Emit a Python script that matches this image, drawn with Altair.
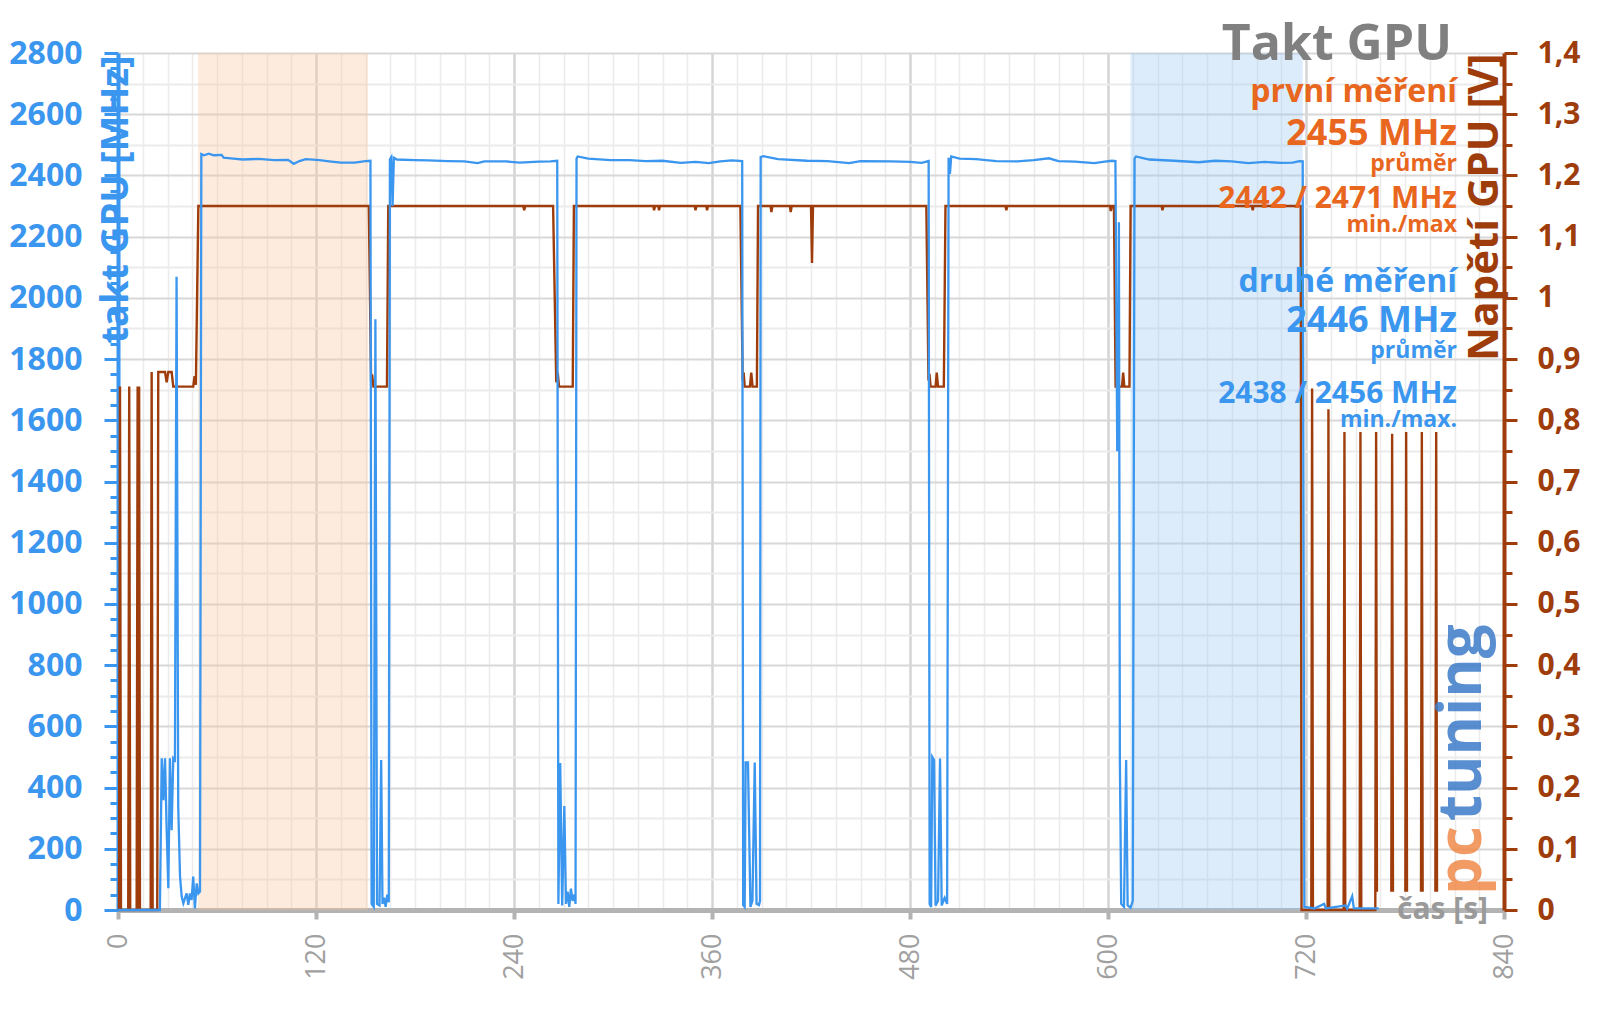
import altair as alt
import pandas as pd

# ---------------- data ----------------
blue_t = [0, 25.4, 26.5, 27.5, 28.5, 29.5, 30.5, 31.5, 32.5, 33.5, 34.5, 35.5, 36.5, 37.6, 38.6, 39.6,
          40.6, 41.6, 42.6, 43.6, 44.6, 45.6, 46.6, 47.7, 48.7, 49.7,
          50.5, 52.1, 55, 58, 62.8, 64, 70, 75.5, 85, 95, 103.1, 106.5, 110, 113.7, 122.2, 128, 135,
          143.5, 150, 153,
          153.7, 155, 156, 157, 158.5, 159.5, 160.3, 161.3, 162.2, 163.2, 164.1, 164.8, 165.6, 166.4, 167.2,
          169, 180, 188, 200, 210, 217.9, 222, 235, 243.4, 255, 262, 266.2,
          266.9, 268, 269.2, 270.5, 271.5, 272.5, 273.5, 274.5, 275.5, 276.6, 277.3, 277.9,
          278.6, 285, 298.6, 310, 319.9, 330, 341.1, 350, 358.1, 365, 372, 378.3,
          378.9, 379.8, 380.4, 381.8, 383.3, 384.5, 385.9, 387, 388.5, 389.1, 389.5,
          391, 400, 417.6, 430, 443.1, 450, 468.6, 480, 487, 491.3,
          491.9, 492.8, 493.5, 494.6, 495.5, 497, 498.2, 499.2, 501, 502.5, 503.4,
          504.2, 505, 510, 520, 532.3, 545, 555, 564.2, 570, 580, 591.8, 598, 602.5, 604.5,
          605.6, 606.2, 606.6, 607.2, 608, 609.7, 611, 611.9, 613.7, 615, 616.1,
          617, 625, 640, 655, 665, 675, 685, 695, 705, 712, 716, 718,
          719, 725, 731, 732, 744, 745, 748, 749, 764]
blue_mhz = [0, 0, 496, 359, 496, 261, 71, 496, 261, 496, 490, 2069, 338, 109, 44, 22,
            39, 54, 17, 54, 33, 109, 5, 87, 54, 60,
            2470, 2466, 2471, 2466, 2467, 2458, 2455, 2452, 2454, 2450, 2451, 2438, 2447, 2453, 2450, 2446, 2442,
            2442, 2447, 2448,
            20, 10, 1930, 20, 15, 490, 20, 40, 10, 50, 25, 2453, 2460, 2300, 2458,
            2452, 2450, 2449, 2447, 2446, 2440, 2446, 2446, 2442, 2445, 2446, 2448,
            20, 480, 15, 340, 20, 60, 10, 70, 30, 50, 20, 2455,
            2462, 2455, 2450, 2450, 2447, 2448, 2441, 2444, 2440, 2446, 2449, 2447,
            16, 10, 482, 482, 10, 30, 482, 20, 16, 30, 2460,
            2463, 2453, 2448, 2447, 2440, 2447, 2446, 2444, 2441, 2447,
            20, 10, 500, 490, 15, 30, 495, 15, 40, 20, 2458,
            2405, 2462, 2455, 2453, 2447, 2446, 2450, 2456, 2447, 2445, 2440, 2445, 2448, 2447,
            1503, 1503, 2247, 490, 20, 10, 490, 15, 8, 30, 2455,
            2462, 2452, 2448, 2443, 2448, 2446, 2440, 2444, 2441, 2442, 2447, 2446,
            10, 5, 20, 5, 15, 5, 45, 5, 5]

brown_t = [0, 0.6, 1.2, 1.8, 6.2, 6.8, 7.4, 11.3, 11.9, 12.4, 12.8, 13.3, 19.8, 20.4, 21, 23.8, 24.4,
           28.5, 29.5, 30.5, 32.5, 33.5, 45.6, 46.4, 47.2, 48.7,
           152, 153.4, 154, 154.8, 163, 163.8,
           245.6, 246.2, 246.8,
           263.7, 265.6, 266.5, 267.3, 275.6, 276.3,
           324.4, 324.9, 325.5, 327.4, 327.9, 328.5,
           349.5, 350, 350.6, 356.5, 357, 357.6,
           377.2, 378.6, 379.2, 379.8, 383, 383.8, 384.6, 387.2, 387.9,
           395.5, 396, 396.6, 407.2, 407.7, 408.3,
           420, 420.6, 421.2,
           489.9, 491.2, 491.8, 492.5, 495.5, 496.2, 497, 500.5, 501.5,
           537.8, 538.4, 539,
           601.2, 601.7, 602.4,
           603.6, 604.6, 608.5, 609.2, 609.9, 613, 613.7,
           632.5, 633, 633.6,
           687.2, 687.7, 688.3,
           716.8, 717.3, 723.2, 723.7, 724.2, 733.1, 733.6, 734.1, 742.8, 743.3, 743.8,
           752.5, 753, 753.5, 762, 762.5, 763,
           771.7, 772.2, 772.7,
           780.2, 780.7, 781.2,
           789.7, 790.2, 790.7,
           798.4, 798.9, 799.4]
brown_v = [0, 0, 0.855, 0, 0, 0.855, 0, 0, 0.855, 0, 0.855, 0, 0, 0.879, 0, 0, 0.879,
           0.879, 0.862, 0.879, 0.879, 0.855, 0.855, 0.872, 0.858, 1.15,
           1.15, 0.862, 0.875, 0.855, 0.855, 1.15,
           1.15, 1.143, 1.15,
           1.15, 0.862, 0.878, 0.855, 0.855, 1.15,
           1.15, 1.143, 1.15, 1.15, 1.143, 1.15,
           1.15, 1.143, 1.15, 1.15, 1.143, 1.15,
           1.15, 0.865, 0.878, 0.855, 0.855, 0.878, 0.855, 0.855, 1.15,
           1.15, 1.14, 1.15, 1.15, 1.14, 1.15,
           1.15, 1.057, 1.15,
           1.15, 0.865, 0.876, 0.855, 0.855, 0.878, 0.855, 0.855, 1.15,
           1.15, 1.143, 1.15,
           1.15, 1.142, 1.15,
           1.15, 0.855, 0.855, 0.878, 0.855, 0.855, 1.15,
           1.15, 1.143, 1.15,
           1.15, 1.143, 1.15,
           1.15, 0, 0, 0.852, 0, 0, 0.818, 0, 0, 0.781, 0,
           0, 0.781, 0, 0, 0.781, 0.03,
           0.03, 0.778, 0.03,
           0.03, 0.781, 0.03,
           0.03, 0.781, 0.03,
           0.03, 0.781, 0.03]
brown_seg = [0] * (len(brown_t) - 12) + [1, 1, 1, 2, 2, 2, 3, 3, 3, 4, 4, 4]

shade_name = ["první měření", "druhé měření"]
shade_start = [48.5, 613.7]
shade_end = [151.5, 718.0]

x_ticks = list(range(0, 841, 15))
mhz_ticks = list(range(0, 2801, 50))
volt_ticks = [round(i * 0.05, 2) for i in range(29)]

title_text = "Takt GPU"
first_texts = ["první měření", "2455 MHz", "průměr", "2442 / 2471 MHz", "min./max"]
second_texts = ["druhé měření", "2446 MHz", "průměr", "2438 / 2456 MHz", "min./max."]

# ---------------- styling ----------------
BLUE = "#3A96EE"
BROWN = "#9E3D0B"
ORANGE = "#E8661E"
GRAY = "#808080"
FONT = "Open Sans"

W, H = 1386, 857

blue_df = pd.DataFrame({"t": blue_t, "mhz": blue_mhz})
brown_df = pd.DataFrame({"t": brown_t, "v": brown_v, "seg": brown_seg})
shade_df = pd.DataFrame({"name": shade_name, "t0": shade_start, "t1": shade_end})

xs = alt.Scale(domain=[0, 840], nice=False, zero=False)

is120 = "datum.value % 120 === 0"
xaxis = alt.Axis(
    values=x_ticks, title=None, labelExpr=f"{is120} ? datum.label : ''",
    labelAngle=270, labelFont=FONT, labelFontSize=27, labelColor="#A0A0A0",
    labelPadding=14, labelOverlap=False, labelFlush=False,
    tickSize=9, tickWidth=4, tickColor="#B3B3B3",
    tickOpacity={"condition": {"test": is120, "value": 1}, "value": 0},
    domainColor="#B3B3B3", domainWidth=5,
    grid=True,
    gridColor={"condition": {"test": is120, "value": "#D4D4D4"}, "value": "#EBEBEB"},
    gridWidth={"condition": {"test": is120, "value": 2.5}, "value": 1.5},
)

is200 = "datum.value % 200 === 0"
yaxis_l = alt.Axis(
    values=mhz_ticks, orient="left", format="d",
    labelExpr=f"{is200} ? datum.label : ''",
    labelFont=FONT, labelFontSize=32, labelFontWeight="bold", labelColor=BLUE,
    labelPadding=22, labelOverlap=False,
    tickSize={"condition": {"test": is200, "value": 14}, "value": 8},
    tickWidth=3, tickColor=BLUE, domainColor=BLUE, domainWidth=4,
    grid=True,
    gridColor={"condition": {"test": is200, "value": "#D8D8D8"}, "value": "#EBEBEB"},
    gridOpacity={"condition": {"test": "datum.value % 100 === 0", "value": 1}, "value": 0},
    gridWidth=2,
    title="takt GPU [MHz]", titleFont=FONT, titleFontSize=38, titleFontWeight="bold",
    titleColor=BLUE, titleAngle=270, titleAlign="right", titleBaseline="middle",
    titleX=-2, titleY=2,
)

isTenth = "abs(datum.value * 10 - round(datum.value * 10)) < 0.000001"
yaxis_r = alt.Axis(
    values=volt_ticks, orient="right",
    labelExpr=f"{isTenth} ? replace(format(datum.value, '.1~f'), '.', ',') : ''",
    labelFont=FONT, labelFontSize=30, labelFontWeight="bold", labelColor=BROWN,
    labelPadding=20, labelOverlap=False,
    tickSize={"condition": {"test": isTenth, "value": 13}, "value": 8},
    tickWidth=3, tickColor=BROWN, domainColor=BROWN, domainWidth=4,
    grid=False,
    title="Napětí GPU [V]", titleFont=FONT, titleFontSize=42, titleFontWeight="bold",
    titleColor=BROWN, titleAngle=270, titleAlign="right", titleBaseline="middle",
    titleX=-20, titleY=0,
)

shade = alt.Chart(shade_df).mark_rect(opacity=0.35).encode(
    x=alt.X("t0:Q", scale=xs, axis=xaxis, title=None),
    x2="t1:Q",
    color=alt.Color("name:N", scale=alt.Scale(domain=shade_name, range=["#F8C9A0", "#9CC8F2"]), legend=None),
)

brown = alt.Chart(brown_df).mark_line(color=BROWN, strokeWidth=2.4).encode(
    x=alt.X("t:Q", scale=xs, axis=xaxis, title=None),
    y=alt.Y("v:Q", scale=alt.Scale(domain=[0, 1.4], nice=False), axis=yaxis_r),
    detail="seg:N",
)

blue = alt.Chart(blue_df).mark_line(color=BLUE, strokeWidth=2.3).encode(
    x=alt.X("t:Q", scale=xs, axis=xaxis, title=None),
    y=alt.Y("mhz:Q", scale=alt.Scale(domain=[0, 2800], nice=False), axis=yaxis_l),
)

one = pd.DataFrame({"k": [0]})


def label(text, x, y, size, color, weight="bold", align="right", angle=0, opacity=1.0):
    return alt.Chart(one).mark_text(
        text=text, font=FONT, fontSize=size, fontWeight=weight,
        align=align, baseline="middle", angle=angle, color=color, opacity=opacity,
    ).encode(x=alt.value(x), y=alt.value(y))


RX = 1339
texts = [label(title_text, 1334, -8, 50, GRAY)]
first_sizes = [32, 36, 23, 30, 23]
first_y = [39, 81, 111, 146, 172]
for s, fs, yy in zip(first_texts, first_sizes, first_y):
    texts.append(label(s, RX, yy, fs, ORANGE))
second_y = [229, 268, 298, 341, 367]
for s, fs, yy in zip(second_texts, first_sizes, second_y):
    texts.append(label(s, RX, yy, fs, BLUE))
texts.append(label("pc", 1345, 842, 60, "#F08A4B", align="left", angle=270, opacity=0.85))
texts.append(label("tuning", 1345, 768, 60, "#3D7CC9", align="left", angle=270, opacity=0.85))
texts.append(label("čas [s]", 1370, 857, 30, "#9A9A9A"))

chart = alt.layer(shade, brown, blue, *texts).resolve_scale(y="independent").properties(
    width=W, height=H,
    padding={"left": 110, "top": 45, "right": 86, "bottom": 85},
    autosize=alt.AutoSizeParams(type="none"),
).configure_view(stroke=None)

chart.save("out.html", embed_options={"renderer": "svg", "actions": False})
